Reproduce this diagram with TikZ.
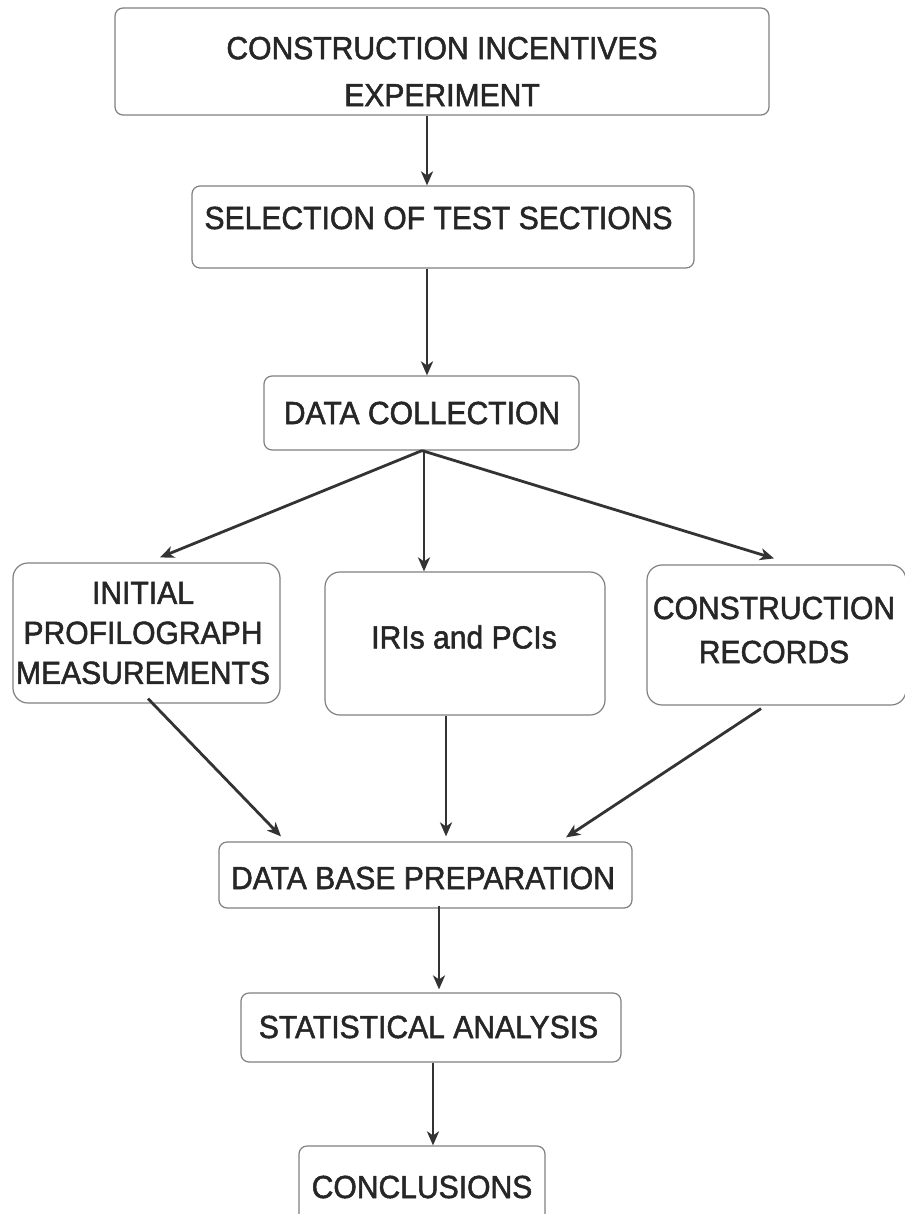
\documentclass[tikz,border=0pt]{standalone}
\usepackage{fontspec}
\setmainfont[FakeStretch=0.94, FakeBold=1.6]{Liberation Sans}
\usepackage{xcolor}
\usetikzlibrary{arrows.meta}

\begin{document}
\begin{tikzpicture}[x=1pt, y=-1pt,
    box/.style={draw=black!50, line width=1.2pt, rounded corners=8pt, fill=white},
    tallbox/.style={box, rounded corners=15pt},
    lbl/.style={text=black!85, align=center, inner sep=0pt, font=\fontsize{32}{42}\selectfont},
    flow/.style={draw=black!80, line width=2.8pt, -{Stealth[length=14pt, width=12pt, inset=4pt]}}]
    \useasboundingbox[fill=white] (0,0) rectangle (904,1214);

    \node[box, minimum width=654pt, minimum height=107pt] (exper) at (442,61.5) {};
    \node[lbl, font=\fontsize{32}{47}\selectfont] (exper-t) at (442,71.5) {CONSTRUCTION INCENTIVES\\EXPERIMENT};

    \node[box, minimum width=502pt, minimum height=82pt] (select) at (443,227) {};
    \node[lbl] (select-t) at (438.5,218) {SELECTION OF TEST SECTIONS};

    \node[box, minimum width=315pt, minimum height=74pt] (collect) at (421.5,413) {};
    \node[lbl] (collect-t) at (422,413) {DATA COLLECTION};

    \node[tallbox, minimum width=267pt, minimum height=140pt] (profil) at (146.5,633) {};
    \node[lbl, font=\fontsize{32}{40}\selectfont] (profil-t) at (143,633) {INITIAL\\PROFILOGRAPH\\MEASUREMENTS};

    \node[tallbox, minimum width=280pt, minimum height=143pt] (indices) at (465,643.5) {};
    \node[lbl] (indices-t) at (464,637) {IRIs and PCIs};

    \node[tallbox, minimum width=259pt, minimum height=140pt] (records) at (776.5,635) {};
    \node[lbl, font=\fontsize{32}{44}\selectfont] (records-t) at (774,630) {CONSTRUCTION\\RECORDS};

    \node[box, minimum width=413pt, minimum height=66pt] (dbase) at (425.5,875) {};
    \node[lbl] (dbase-t) at (423,878) {DATA BASE PREPARATION};

    \node[box, minimum width=380pt, minimum height=69pt] (stats) at (431,1027.5) {};
    \node[lbl] (stats-t) at (428.5,1027) {STATISTICAL ANALYSIS};

    \node[box, minimum width=246pt, minimum height=82pt] (concl) at (422,1187) {};
    \node[lbl] (concl-t) at (422,1187) {CONCLUSIONS};

    \draw[flow] ([xshift=-15pt]exper.south) -- ([xshift=-16pt]select.north);
    \draw[flow] ([xshift=-16pt]select.south) -- ([xshift=5.5pt]collect.north);
    \draw[flow] ([xshift=0.5pt]collect.south) -- ([xshift=13.5pt, yshift=5pt]profil.north);
    \draw[flow] ([xshift=2.5pt]collect.south) -- ([xshift=-41pt]indices.north);
    \draw[flow] ([xshift=0.5pt]collect.south) -- ([xshift=-2.5pt, yshift=6pt]records.north);
    \draw[flow] ([xshift=1.5pt, yshift=5pt]profil.south) -- ([xshift=-144.5pt, yshift=5pt]dbase.north);
    \draw[flow] ([xshift=-19pt]indices.south) -- ([xshift=20.5pt, yshift=5pt]dbase.north);
    \draw[flow] ([xshift=-15.5pt, yshift=-3pt]records.south) -- ([xshift=140.5pt, yshift=4pt]dbase.north);
    \draw[flow] ([xshift=13.5pt, yshift=3pt]dbase.south) -- ([xshift=8pt, yshift=3pt]stats.north);
    \draw[flow] ([xshift=2pt]stats.south) -- ([xshift=11pt]concl.north);
\end{tikzpicture}
\end{document}
